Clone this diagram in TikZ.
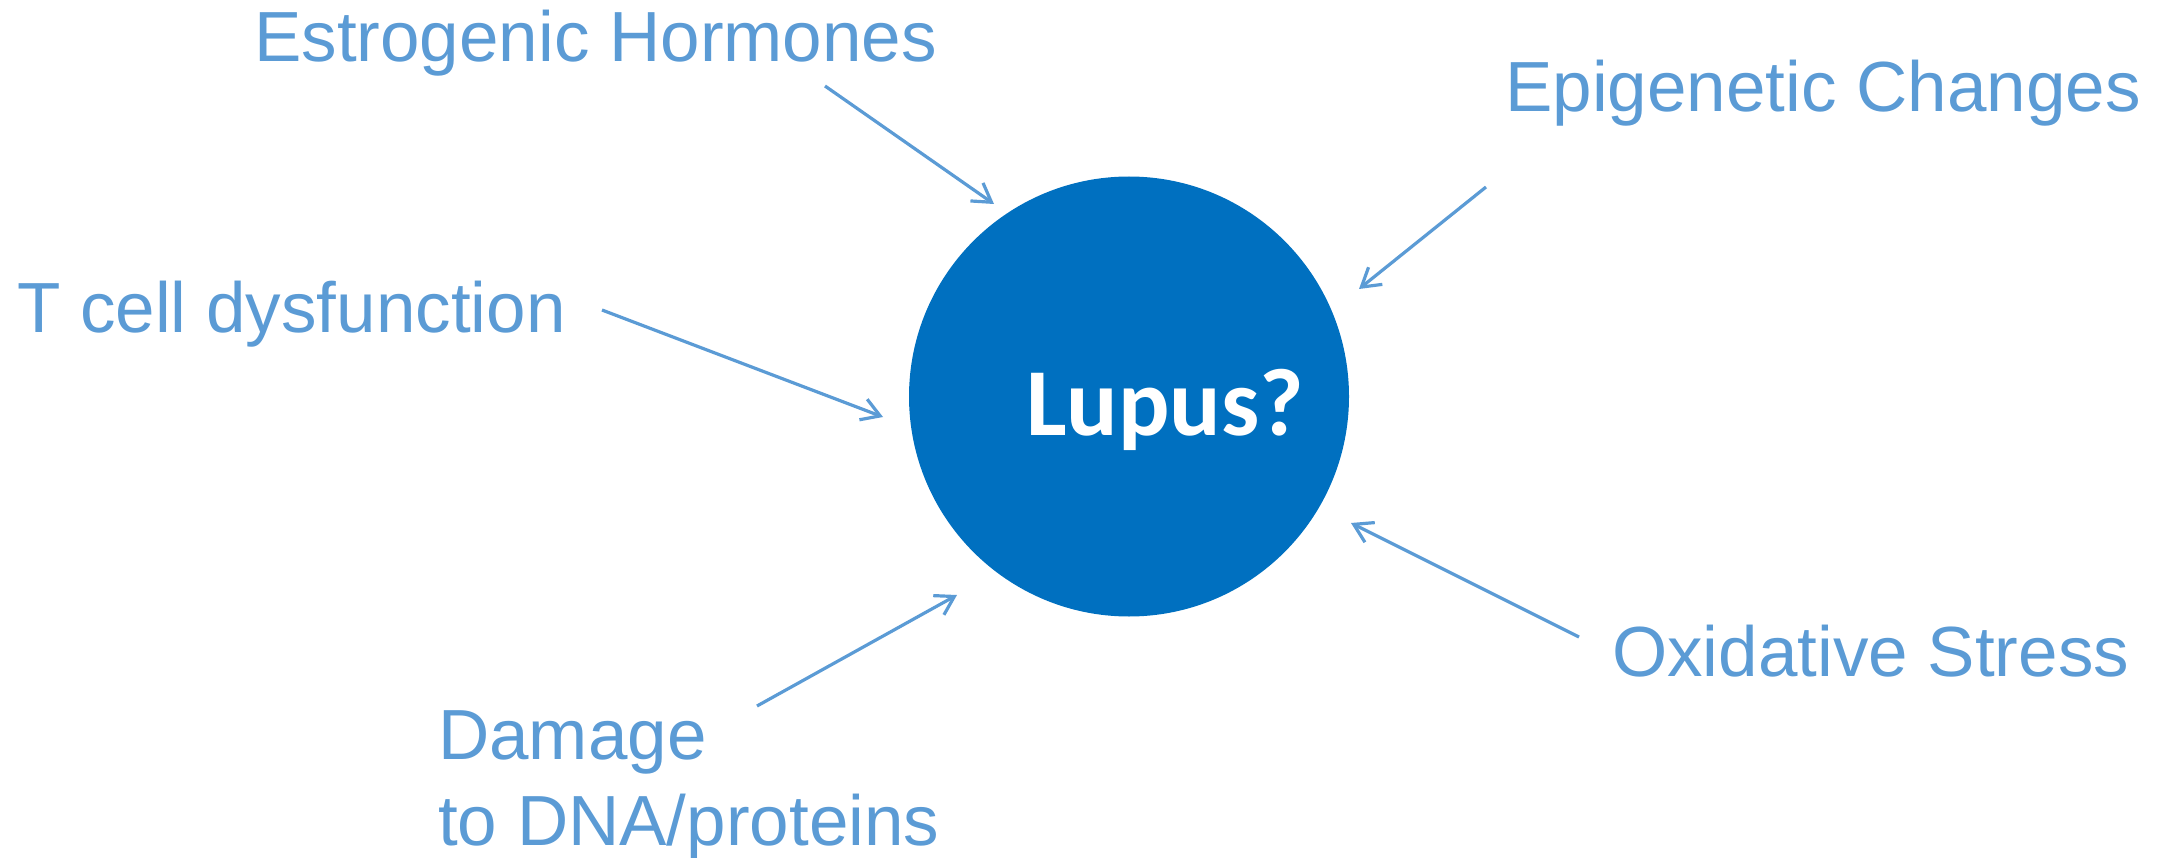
\documentclass[tikz,border=0pt]{standalone}
\usepackage{fontspec}
\setmainfont{Liberation Sans}
\newfontfamily\calib{Carlito}
\usetikzlibrary{arrows.meta}
\definecolor{lblue}{HTML}{5B9BD5}
\definecolor{dblue}{HTML}{0070C0}
\tikzset{
  lbl/.style={anchor=base west, inner sep=0pt, text=lblue, font=\fontsize{71}{86}\selectfont, align=left},
  conn/.style={draw=lblue, line width=3.2pt, -{Straight Barb[length=18pt,width=22pt,line width=3.2pt]}},
}
\begin{document}
\begin{tikzpicture}[x=1pt,y=-1pt]
\useasboundingbox (0,0) rectangle (2159,858);
\node[circle, fill=dblue, minimum size=440pt, inner sep=0pt] (lupus) at (1129,396.5) {};
\node[anchor=base west, inner sep=0pt, text=white, font=\calib\bfseries\fontsize{96}{110}\selectfont] (lt) at (1026,435) {Lupus?};
\node[lbl] (est) at (254,62) {Estrogenic Hormones};
\node[lbl] (epi) at (1505,112) {Epigenetic Changes};
\node[lbl] (tc) at (17,333) {T cell dysfunction};
\node[lbl] (ox) at (1612,676) {Oxidative Stress};
\node[lbl] (dam) at (438,845) {Damage\\to DNA/proteins};
\coordinate (s1) at (825,86);   \coordinate (e1) at (994,204);
\coordinate (s2) at (1486,187); \coordinate (e2) at (1359,289);
\coordinate (s3) at (602,310);  \coordinate (e3) at (883,417);
\coordinate (s4) at (757,706);  \coordinate (e4) at (957,595);
\coordinate (s5) at (1579,637); \coordinate (e5) at (1351,523);
\draw[conn] (s1) -- (e1);
\draw[conn] (s2) -- (e2);
\draw[conn] (s3) -- (e3);
\draw[conn] (s4) -- (e4);
\draw[conn] (s5) -- (e5);
\end{tikzpicture}
\end{document}
